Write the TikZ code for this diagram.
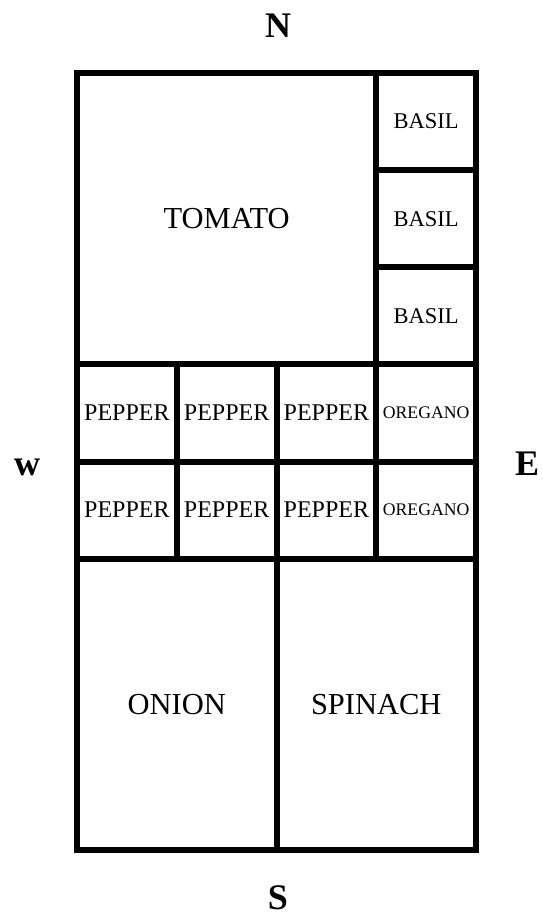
\documentclass[tikz,border=0pt]{standalone}
\usepackage{fontspec}
\setmainfont{Liberation Serif}
\begin{document}
\begin{tikzpicture}[x=1pt,y=-1pt,
  cell/.style={draw, line width=6pt, inner sep=0pt, outer sep=0pt, anchor=center},
  one/.style={cell, minimum width=99.75pt, minimum height=97.125pt},
  big/.style={cell, minimum width=299.25pt, minimum height=291.375pt},
  half/.style={cell, minimum width=199.5pt, minimum height=291.375pt},
  lab30/.style={font=\fontsize{30.5}{30.5}\selectfont},
  lab24/.style={font=\fontsize{24}{24}\selectfont},
  lab23/.style={font=\fontsize{22.5}{22.5}\selectfont},
  lab18/.style={font=\fontsize{17.7}{17.7}\selectfont},
  compass/.style={font=\fontsize{36}{36}\selectfont\bfseries, inner sep=0pt, anchor=base}]
\useasboundingbox (0,0) rectangle (542,918);
% top block
\node[big, lab30] (tomato) at (226.625,218.6875) {TOMATO};
\node[one, lab23] (basil1) at (426.125,121.5625) {BASIL};
\node[one, lab23] (basil2) at (426.125,218.6875) {BASIL};
\node[one, lab23] (basil3) at (426.125,315.8125) {BASIL};
% pepper rows
\node[one, lab24] (p1) at (126.875,412.9375) {PEPPER};
\node[one, lab24] (p2) at (226.625,412.9375) {PEPPER};
\node[one, lab24] (p3) at (326.375,412.9375) {PEPPER};
\node[one, lab18] (o1) at (426.125,412.9375) {OREGANO};
\node[one, lab24] (p4) at (126.875,510.0625) {PEPPER};
\node[one, lab24] (p5) at (226.625,510.0625) {PEPPER};
\node[one, lab24] (p6) at (326.375,510.0625) {PEPPER};
\node[one, lab18] (o2) at (426.125,510.0625) {OREGANO};
% bottom
\node[half, lab30] (onion) at (176.75,704.3125) {ONION};
\node[half, lab30] (spinach) at (376.25,704.3125) {SPINACH};
% compass
\node[compass] (n) at (278,37) {N};
\node[compass] (s) at (278,909) {S};
\node[compass] (w) at (27,475) {w};
\node[compass] (e) at (527,475) {E};
\end{tikzpicture}
\end{document}
